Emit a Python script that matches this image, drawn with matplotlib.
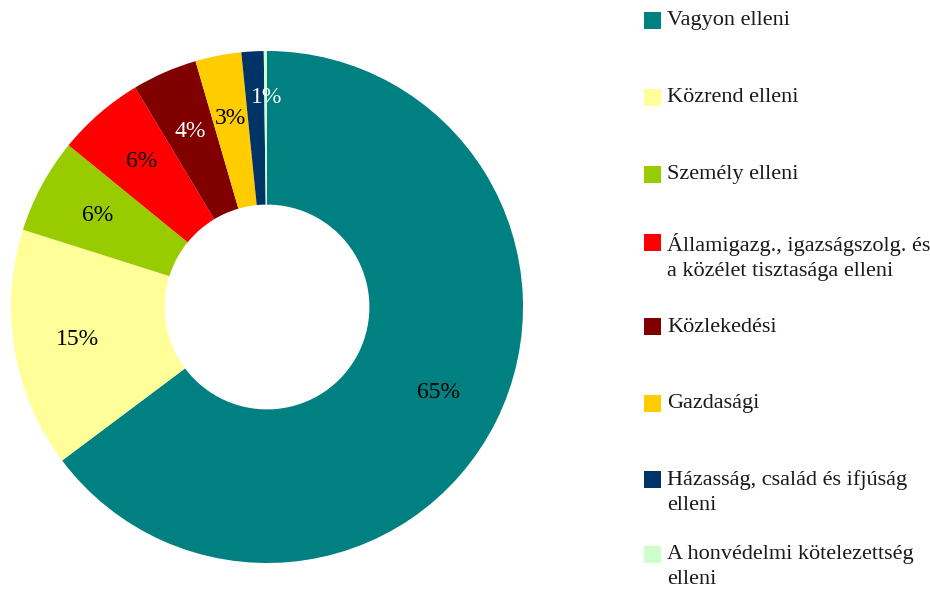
import numpy as np
import matplotlib.pyplot as plt
from matplotlib.patches import Rectangle

plt.rcParams['font.family'] = ['Liberation Serif', 'DejaVu Serif']

# Data
categories = [
    "Vagyon elleni",
    "Közrend elleni",
    "Személy elleni",
    "Államigazg., igazságszolg. és\na közélet tisztasága elleni",
    "Közlekedési",
    "Gazdasági",
    "Házasság, család és ifjúság\nelleni",
    "A honvédelmi kötelezettség\nelleni",
]
values = [64.7, 15.1, 6.0, 5.5, 4.1, 2.9, 1.4, 0.2]
colors = ["#008080", "#FFFF99", "#99CC00", "#FF0000",
          "#800000", "#FFCC00", "#003366", "#CCFFCC"]
label_colors = ["black", "black", "black", "black",
                "white", "black", "white", "black"]

fig = plt.figure(figsize=(9.3, 5.96), dpi=100)
ax = fig.add_axes([11 / 930, 33 / 596, 512 / 930, 512 / 596])

total = sum(values)
wedges, _ = ax.pie(values, colors=colors, startangle=90, counterclock=False,
                   radius=1.0, wedgeprops=dict(width=0.6, linewidth=0))
ax.set_xlim(-1, 1)
ax.set_ylim(-1, 1)
ax.set_aspect('equal')

for w, v, c in zip(wedges, values, label_colors):
    pct = v / total * 100
    if pct < 0.5:
        continue
    ang = np.deg2rad((w.theta1 + w.theta2) / 2)
    r = 0.75
    x, y = r * np.cos(ang), r * np.sin(ang)
    if pct < 2:
        # Excel pushed the tiny slice's label to the top edge
        x, y = 0.0, 0.82
    ax.text(x, y, f"{pct:.0f}%", ha='center', va='center', fontsize=17, color=c)

# legend, placed by hand to follow the reference layout
legend_y = [20, 97, 174, 242, 327, 403, 479, 554]
for name, col, y in zip(categories, colors, legend_y):
    fig.patches.append(Rectangle((644 / 930, 1 - (y + 8.5) / 596), 17 / 930, 17 / 596,
                                 transform=fig.transFigure, facecolor=col,
                                 edgecolor='none'))
    fig.text(667 / 930, 1 - (y - 9) / 596, name, ha='left', va='top',
             fontsize=16, color='#1a1a1a', linespacing=1.4)

fig.savefig("out.png", dpi=100)
